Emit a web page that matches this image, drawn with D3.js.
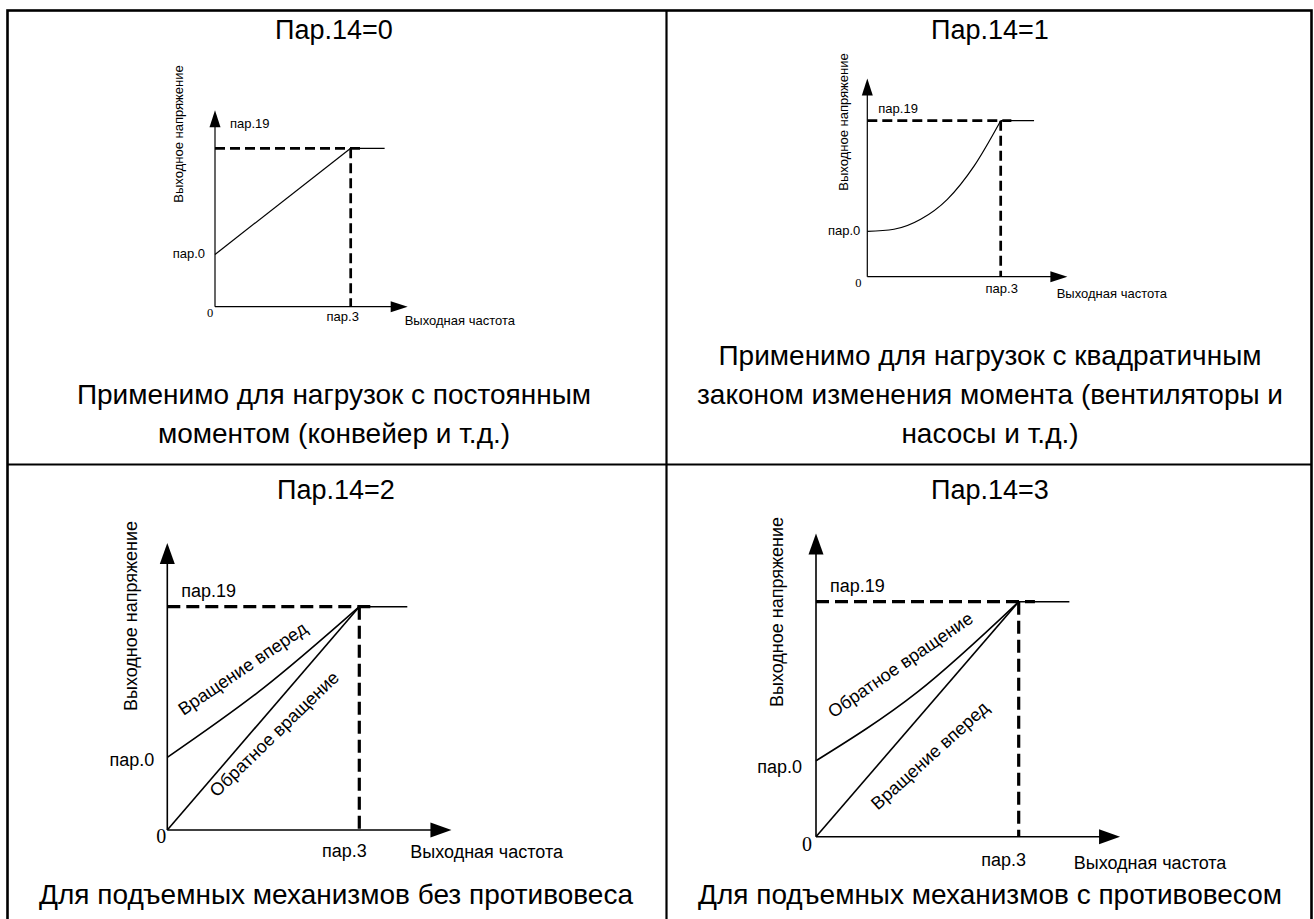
<!DOCTYPE html>
<html>
<head>
<meta charset="utf-8">
<script src="https://cdn.jsdelivr.net/npm/d3@7"></script>
<style>
  body { margin: 0; background: #fff; }
  svg { display: block; }
  text { font-family: "Liberation Sans", Arial, sans-serif; fill: #000; }
</style>
</head>
<body>
<div id="chart"></div>
<script>
// ---- data ----
const panelTitles = ["Пар.14=0", "Пар.14=1", "Пар.14=2", "Пар.14=3"];
const captions = [
  ["Применимо для нагрузок с постоянным", "моментом (конвейер и т.д.)"],
  ["Применимо для нагрузок с квадратичным", "законом изменения момента (вентиляторы и", "насосы и т.д.)"],
  ["Для подъемных механизмов без противовеса"],
  ["Для подъемных механизмов с противовесом"]
];
const axisNames = { volt: "Выходное напряжение", freq: "Выходная частота" };
const tickNames = { origin: "0", pap0: "пар.0", pap19: "пар.19", pap3: "пар.3" };

// normalised units: пар.3 = 1 on frequency, пар.19 = 1 on voltage
const pap0Level = [0.33, 0.29, 0.325, 0.323];
const freqAxisMax = [1.42, 1.5, 1.48, 1.5];
const voltAxisMax = [1.24, 1.27, 1.285, 1.29];
const ratedDashEnd = 1.08;
const ratedTail = [{ f: 1, v: 1 }, { f: 1.25, v: 1 }];

const linearVF = [{ f: 0, v: 0.33 }, { f: 1, v: 1 }];
const squareVF = [
  { f: 0, v: 0.29 }, { f: 0.2, v: 0.304 }, { f: 0.4, v: 0.368 },
  { f: 0.6, v: 0.496 }, { f: 0.8, v: 0.709 }, { f: 1, v: 1 }
];
const noCwForward = [{ f: 0, v: 0.325 }, { f: 0.5, v: 0.635 }, { f: 1, v: 1 }];
const noCwReverse = [{ f: 0, v: 0 }, { f: 1, v: 1 }];
const cwReverse = [{ f: 0, v: 0.323 }, { f: 0.5, v: 0.615 }, { f: 1, v: 1 }];
const cwForward = [{ f: 0, v: 0 }, { f: 1, v: 1 }];

const panelSeries = [
  [{ pts: linearVF, curved: false }],
  [{ pts: squareVF, curved: true }],
  [{ pts: noCwForward, curved: true }, { pts: noCwReverse, curved: false }],
  [{ pts: cwReverse, curved: true }, { pts: cwForward, curved: false }]
];
const curveLabels = [
  [],
  [],
  [{ text: "Вращение вперед", f: 0.41, v: 0.70 }, { text: "Обратное вращение", f: 0.579, v: 0.41 }],
  [{ text: "Обратное вращение", f: 0.433, v: 0.71 }, { text: "Вращение вперед", f: 0.582, v: 0.326 }]
];

// ---- layout ----
const W = 1314, H = 919;
const layout = [
  { ox: 215, oy: 306.7, ux: 135.7, uy: 158.4, cx: 334, titleY: 39, capY: [404, 443],
    fs: 13, zfs: 12.5, lw: 1.2, dw: 2.7, dash: "10,5", arrow: [17, 11],
    p19: [15, -20], p0: [-10, 4], z: [-5, 10], p3: [-8, 14], fq: [54, 18], vl: [-37, 134], ang: [] },
  { ox: 867.3, oy: 276.7, ux: 133.4, uy: 156, cx: 990, titleY: 39, capY: [365, 404, 443],
    fs: 13, zfs: 12.5, lw: 1.2, dw: 2.7, dash: "10,5", arrow: [17, 11],
    p19: [11, -8], p0: [-7, 4], z: [-9, 10], p3: [1, 16], fq: [56, 21], vl: [-24, 122], ang: [] },
  { ox: 167.3, oy: 830, ux: 192, uy: 223.3, cx: 336, titleY: 499, capY: [904],
    fs: 18, zfs: 20, lw: 1.6, dw: 3.2, dash: "13,6", arrow: [21, 15],
    p19: [14, -10], p0: [-13, 9], z: [-6, 13], p3: [-15, 27], fq: [51, 28], vl: [-37, 616], ang: [-34, -44] },
  { ox: 816, oy: 836.7, ux: 202.7, uy: 235, cx: 990, titleY: 499, capY: [904],
    fs: 18, zfs: 20, lw: 1.6, dw: 3.2, dash: "13,6", arrow: [21, 15],
    p19: [14, -10], p0: [-14, 12], z: [-9, 14], p3: [-15, 29], fq: [55, 32], vl: [-39, 612], ang: [-34.5, -42] }
];

const svg = d3.select("#chart").append("svg").attr("width", W).attr("height", H);

// frame
svg.append("rect").attr("x", 7.5).attr("y", 10.5).attr("width", 1304).attr("height", 930)
  .attr("fill", "none").attr("stroke", "#000").attr("stroke-width", 2.6);
svg.append("line").attr("x1", 666.5).attr("x2", 666.5).attr("y1", 10).attr("y2", H)
  .attr("stroke", "#000").attr("stroke-width", 2.2);
svg.append("line").attr("x1", 7).attr("x2", 1312).attr("y1", 464.5).attr("y2", 464.5)
  .attr("stroke", "#000").attr("stroke-width", 2.2);

layout.forEach((L, i) => {
  const g = svg.append("g");
  const x = d3.scaleLinear().domain([0, 1]).range([L.ox, L.ox + L.ux]);
  const y = d3.scaleLinear().domain([0, 1]).range([L.oy, L.oy - L.uy]);

  // title and caption
  g.append("text").attr("x", L.cx).attr("y", L.titleY).attr("text-anchor", "middle")
    .style("font-size", "27px").text(panelTitles[i]);
  captions[i].forEach((line, k) => {
    g.append("text").attr("x", L.cx).attr("y", L.capY[k]).attr("text-anchor", "middle")
      .style("font-size", "28px").text(line);
  });

  // axes with arrowheads
  const xTip = x(freqAxisMax[i]), yTip = y(voltAxisMax[i]);
  const [al, aw] = L.arrow;
  g.append("line").attr("x1", x(0)).attr("y1", y(0)).attr("x2", xTip - al + 1).attr("y2", y(0))
    .attr("stroke", "#000").attr("stroke-width", L.lw);
  g.append("line").attr("x1", x(0)).attr("y1", y(0)).attr("x2", x(0)).attr("y2", yTip + al - 1)
    .attr("stroke", "#000").attr("stroke-width", L.lw);
  g.append("path")
    .attr("d", `M${xTip},${y(0)}L${xTip - al},${y(0) - aw / 2}L${xTip - al},${y(0) + aw / 2}Z`)
    .attr("fill", "#000");
  g.append("path")
    .attr("d", `M${x(0)},${yTip}L${x(0) - aw / 2},${yTip + al}L${x(0) + aw / 2},${yTip + al}Z`)
    .attr("fill", "#000");

  // rated point guides
  g.append("line").attr("x1", x(0)).attr("x2", x(ratedDashEnd)).attr("y1", y(1)).attr("y2", y(1))
    .attr("stroke", "#000").attr("stroke-width", L.dw).attr("stroke-dasharray", L.dash);
  g.append("line").attr("x1", x(1)).attr("x2", x(1)).attr("y1", y(1)).attr("y2", y(0))
    .attr("stroke", "#000").attr("stroke-width", L.dw).attr("stroke-dasharray", L.dash);

  // V/f characteristics
  const lineGen = (curved) => d3.line().x(d => x(d.f)).y(d => y(d.v))
    .curve(curved ? d3.curveMonotoneX : d3.curveLinear);
  panelSeries[i].forEach(s => {
    g.append("path").attr("d", lineGen(s.curved)(s.pts)).attr("fill", "none")
      .attr("stroke", "#000").attr("stroke-width", L.lw);
  });
  g.append("path").attr("d", lineGen(false)(ratedTail)).attr("fill", "none")
    .attr("stroke", "#000").attr("stroke-width", L.lw);

  // labels
  const fs = L.fs + "px";
  g.append("text").attr("x", x(0) + L.p19[0]).attr("y", y(1) + L.p19[1])
    .style("font-size", fs).text(tickNames.pap19);
  g.append("text").attr("x", x(0) + L.p0[0]).attr("y", y(pap0Level[i]) + L.p0[1])
    .attr("text-anchor", "end").style("font-size", fs).text(tickNames.pap0);
  g.append("text").attr("x", x(0) + L.z[0]).attr("y", y(0) + L.z[1])
    .attr("text-anchor", "middle").style("font-family", "'Liberation Serif', serif")
    .style("font-size", L.zfs + "px").text(tickNames.origin);
  g.append("text").attr("x", x(1) + L.p3[0]).attr("y", y(0) + L.p3[1])
    .attr("text-anchor", "middle").style("font-size", fs).text(tickNames.pap3);
  g.append("text").attr("x", x(1) + L.fq[0]).attr("y", y(0) + L.fq[1])
    .style("font-size", fs).text(axisNames.freq);
  g.append("text").attr("transform", `translate(${x(0) + L.vl[0]},${L.vl[1]}) rotate(-90)`)
    .attr("text-anchor", "middle").attr("dy", "0.35em")
    .style("font-size", fs).text(axisNames.volt);

  curveLabels[i].forEach((c, k) => {
    g.append("text")
      .attr("transform", `translate(${x(c.f)},${y(c.v)}) rotate(${L.ang[k]})`)
      .attr("text-anchor", "middle").style("font-size", fs).text(c.text);
  });
});
</script>
</body>
</html>
